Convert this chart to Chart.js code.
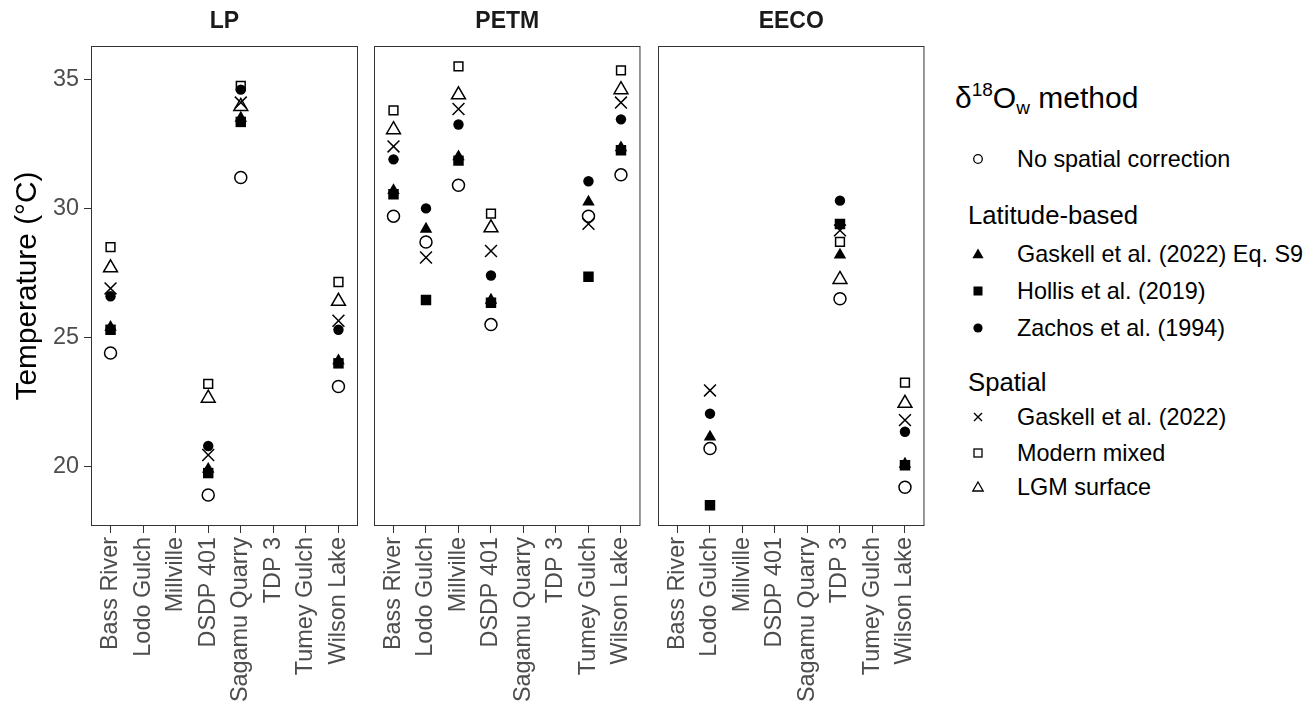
<!DOCTYPE html>
<html lang="en">
<head>
  <meta charset="UTF-8" />
  <title>Temperature by site and d18Ow method</title>
  <script src="https://cdn.jsdelivr.net/npm/chart.js@4"></script>
  <style>
    body {
      margin: 0;
      background: #fff;
      font-family: "Liberation Sans", Arial, sans-serif;
    }

    #wrap {
      position: relative;
      width: 1305px;
      height: 705px;
      overflow: hidden;
    }

    #wrap canvas {
      position: absolute;
      top: 0;
    }

    .lg {
      position: absolute;
      white-space: nowrap;
      color: #000;
    }

    .lg-title {
      left: 955px;
      top: 80px;
      font-size: 30px;
      line-height: 36px;
    }

    .lg-title span {
      position: relative;
      font-size: 19px;
    }

    .lg-head {
      left: 968px;
      font-size: 25.7px;
      line-height: 30px;
    }

    .lg-item {
      left: 971px;
      font-size: 23.4px;
      line-height: 28px;
    }

    .lg-item svg {
      position: absolute;
      left: 0;
      top: 7px;
    }

    .lg-item b {
      font-weight: normal;
      margin-left: 46px;
    }
  </style>
</head>

<body>
  <div id="wrap">
    <canvas id="lp" width="372" height="705" style="left:0"></canvas>
    <canvas id="petm" width="292" height="705" style="left:362px"></canvas>
    <canvas id="eeco" width="292" height="705" style="left:646px"></canvas>

    <!-- Legend -->
    <div class="lg lg-title">δ<span style="top:-12px">18</span>O<span style="top:6px">w</span> method</div>

    <div class="lg lg-item" style="top:145px">
      <svg width="14" height="14"><circle cx="7" cy="7" r="4.3" fill="none" stroke="#000" stroke-width="1.3"/></svg>
      <b>No spatial correction</b>
    </div>

    <div class="lg lg-head" style="top:200px">Latitude-based</div>
    <div class="lg lg-item" style="top:240px">
      <svg width="14" height="14"><polygon points="7,1.5 12.6,11.2 1.4,11.2" fill="#000"/></svg>
      <b>Gaskell et al. (2022) Eq. S9</b>
    </div>
    <div class="lg lg-item" style="top:277px">
      <svg width="14" height="14"><rect x="2.5" y="2.5" width="9" height="9" fill="#000"/></svg>
      <b>Hollis et al. (2019)</b>
    </div>
    <div class="lg lg-item" style="top:314px">
      <svg width="14" height="14"><circle cx="7" cy="7" r="4.6" fill="#000"/></svg>
      <b>Zachos et al. (1994)</b>
    </div>

    <div class="lg lg-head" style="top:367px">Spatial</div>
    <div class="lg lg-item" style="top:403px">
      <svg width="14" height="14"><path d="M3,3 L11,11 M11,3 L3,11" stroke="#000" stroke-width="1.4"/></svg>
      <b>Gaskell et al. (2022)</b>
    </div>
    <div class="lg lg-item" style="top:439px">
      <svg width="14" height="14"><rect x="3" y="3" width="8" height="8" fill="none" stroke="#000" stroke-width="1.3"/></svg>
      <b>Modern mixed</b>
    </div>
    <div class="lg lg-item" style="top:473px">
      <svg width="14" height="14"><polygon points="7,2 12.2,11 1.8,11" fill="none" stroke="#000" stroke-width="1.3"/></svg>
      <b>LGM surface</b>
    </div>
  </div>

  <script>
    // categories
    const panels = ['LP', 'PETM', 'EECO'];
    const sites = ['Bass River', 'Lodo Gulch', 'Millville', 'DSDP 401',
      'Sagamu Quarry', 'TDP 3', 'Tumey Gulch', 'Wilson Lake'];
    const yTicks = [20, 25, 30, 35];

    // temperature (°C), 8 sites per panel: LP, PETM, EECO
    const noSpatial = [
      24.4, null, null, 18.9, 31.2, null, null, 23.1,
      29.7, 28.7, 30.9, 25.5, null, null, 29.7, 31.3,
      null, 20.7, null, null, null, 26.5, null, 19.2
    ];
    const gaskellS9 = [
      25.4, null, null, 19.9, 33.5, null, null, 24.1,
      30.7, 29.2, 32.0, 26.45, null, null, 30.25, 32.35,
      null, 21.15, null, null, null, 28.2, null, 20.1
    ];
    const hollis = [
      25.3, null, null, 19.75, 33.35, null, null, 24.0,
      30.55, 26.45, 31.85, 26.35, null, null, 27.35, 32.25,
      null, 18.5, null, null, null, 29.4, null, 20.05
    ];
    const zachos = [
      26.6, null, null, 20.8, 34.6, null, null, 25.3,
      31.9, 30.0, 33.25, 27.4, null, null, 31.05, 33.45,
      null, 22.05, null, null, null, 30.3, null, 21.35
    ];
    const gaskellSpatial = [
      26.9, null, null, 20.45, 34.1, null, null, 25.65,
      32.4, 28.1, 33.85, 28.35, null, null, 29.4, 34.1,
      null, 22.95, null, null, null, 29.15, null, 21.8
    ];
    const modernMixed = [
      28.5, null, null, 23.2, 34.75, null, null, 27.15,
      33.8, null, 35.5, 29.8, null, null, null, 35.35,
      null, null, null, null, null, 28.7, null, 23.25
    ];
    const lgmSurface = [
      27.7, null, null, 22.65, 33.95, null, null, 26.4,
      33.05, null, 34.4, 29.25, null, null, null, 34.6,
      null, null, null, null, null, 27.25, null, 22.45
    ];

    const methods = [
      { label: 'No spatial correction', values: noSpatial, shape: 'circle', r: 6, filled: false, order: 4 },
      { label: 'Gaskell et al. (2022) Eq. S9', values: gaskellS9, shape: 'triangle', r: 7.2, filled: true, order: 3 },
      { label: 'Hollis et al. (2019)', values: hollis, shape: 'rect', r: 7.4, filled: true, order: 1 },
      { label: 'Zachos et al. (1994)', values: zachos, shape: 'circle', r: 5.2, filled: true, order: 0 },
      { label: 'Gaskell et al. (2022)', values: gaskellSpatial, shape: 'crossRot', r: 8.4, filled: false, order: 2 },
      { label: 'Modern mixed', values: modernMixed, shape: 'rect', r: 6.2, filled: false, order: 5 },
      { label: 'LGM surface', values: lgmSurface, shape: 'triangle', r: 8, filled: false, order: 6 }
    ];

    Chart.defaults.font.family = '"Liberation Sans", Arial, sans-serif';
    Chart.defaults.animation = false;

    // frame round the panel + strip label above it
    const panelFrame = {
      id: 'panelFrame',
      afterDatasetsDraw(chart, args, opts) {
        const { ctx, chartArea: a } = chart;
        ctx.save();
        ctx.strokeStyle = '#333333';
        ctx.lineWidth = 1;
        ctx.strokeRect(a.left + 0.5, a.top + 0.5, a.width - 1, a.height - 1);
        ctx.fillStyle = '#1a1a1a';
        ctx.font = 'bold 23px "Liberation Sans", Arial, sans-serif';
        ctx.textAlign = 'center';
        ctx.textBaseline = 'middle';
        ctx.fillText(opts.label, (a.left + a.right) / 2, 22);
        ctx.restore();
      }
    };

    function panelPoints(values, p) {
      const out = [];
      sites.forEach((s, i) => {
        const v = values[p * sites.length + i];
        if (v !== null) out.push({ x: i + 1, y: v });
      });
      return out;
    }

    function makePanel(id, p, padding, withAxis) {
      const datasets = methods.map(m => ({
        label: m.label,
        data: panelPoints(m.values, p),
        order: m.order,
        pointStyle: m.shape,
        pointRadius: m.r,
        pointHoverRadius: m.r,
        pointBackgroundColor: m.filled ? '#000' : 'rgba(0,0,0,0)',
        pointBorderColor: '#000',
        pointBorderWidth: m.filled ? 0 : 1.5,
        showLine: false
      }));

      new Chart(document.getElementById(id), {
        type: 'scatter',
        data: { datasets },
        plugins: [panelFrame],
        options: {
          responsive: false,
          devicePixelRatio: 1,
          layout: { padding },
          plugins: {
            legend: { display: false },
            tooltip: { enabled: false },
            panelFrame: { label: panels[p] }
          },
          scales: {
            x: {
              type: 'linear',
              min: 0.4,
              max: 8.6,
              afterBuildTicks: s => { s.ticks = sites.map((_, i) => ({ value: i + 1 })); },
              afterFit: s => { s.height = 179; },
              ticks: {
                callback: v => sites[Math.round(v) - 1],
                minRotation: 90,
                maxRotation: 90,
                autoSkip: false,
                color: '#4d4d4d',
                font: { size: 23.4 },
                padding: 4
              },
              grid: { drawOnChartArea: false, tickLength: 7, color: '#333333' },
              border: { display: false }
            },
            y: {
              display: withAxis,
              min: 17.7,
              max: 36.29,
              afterBuildTicks: s => { s.ticks = yTicks.map(v => ({ value: v })); },
              afterFit: s => { s.width = withAxis ? 91 : 0; },
              ticks: { color: '#4d4d4d', font: { size: 23.4 }, padding: 5 },
              grid: { drawOnChartArea: false, tickLength: 7, color: '#333333' },
              border: { display: false },
              title: {
                display: true,
                text: 'Temperature (°C)',
                color: '#000',
                font: { size: 29.8 },
                padding: { top: 10, bottom: 0 }
              }
            }
          }
        }
      });
    }

    makePanel('lp', 0, { top: 46, right: 14, left: 0, bottom: 0 }, true);
    makePanel('petm', 1, { top: 46, right: 13, left: 12, bottom: 0 }, false);
    makePanel('eeco', 2, { top: 46, right: 13, left: 12, bottom: 0 }, false);
  </script>
</body>

</html>
